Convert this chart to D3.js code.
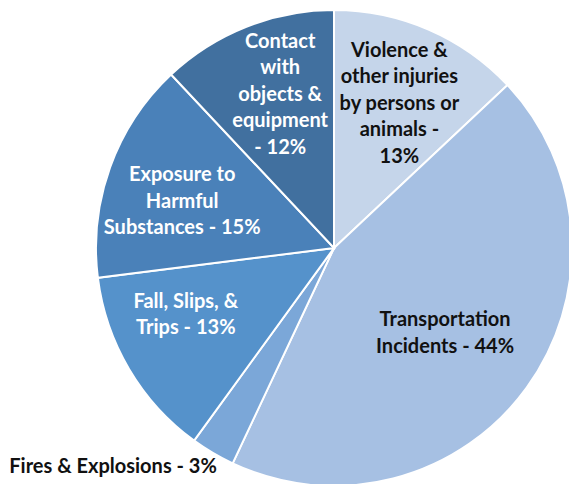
<!DOCTYPE html>
<html>
<head>
<meta charset="utf-8">
<script src="https://cdn.jsdelivr.net/npm/d3@7"></script>
<style>
  body { margin: 0; background: #fff; }
  text { font-family: Lato, 'Open Sans', sans-serif; font-weight: bold; font-size: 20px; }
</style>
</head>
<body>
<svg id="chart" width="569" height="484"></svg>
<script>
// slices, clockwise from 12 o'clock
const categories = [
  'Violence & other injuries by persons or animals',
  'Transportation Incidents',
  'Fires & Explosions',
  'Fall, Slips, & Trips',
  'Exposure to Harmful Substances',
  'Contact with objects & equipment',
]
const shares = [13, 44, 3, 13, 15, 12]
const labelLines = [
  ['Violence &', 'other injuries', 'by persons or', 'animals -', '13%'],
  ['Transportation', 'Incidents - 44%'],
  ['Fires & Explosions - 3%'],
  ['Fall, Slips, &', 'Trips - 13%'],
  ['Exposure to', 'Harmful', 'Substances - 15%'],
  ['Contact', 'with', 'objects &', 'equipment', '- 12%'],
]
const colors = ['#c5d5ea', '#a6c0e3', '#7ba7d8', '#5592cb', '#4a81b9', '#41709f']
const textColors = ['#111', '#111', '#111', '#fff', '#fff', '#fff']

const cx = 334
const cy = 248
const radius = 238
const lineH = 26.5

const svg = d3.select('#chart')
const g = svg.append('g').attr('transform', `translate(${cx}, ${cy})`)

const data = categories.map((c, i) => ({ name: c, value: shares[i], i: i }))
const pie = d3.pie().sort(null).value((d) => d.value)
const arcs = pie(data)

const arc = d3.arc().innerRadius(0).outerRadius(radius)
const labelArc = d3.arc().innerRadius(radius * 0.66).outerRadius(radius * 0.66)

g.selectAll('path')
  .data(arcs)
  .join('path')
  .attr('d', arc)
  .attr('fill', (d) => colors[d.data.i])
  .attr('stroke', '#fff')
  .attr('stroke-width', 2)

// small nudges so labels sit where the original put them
const nudge = [[3, -1], [-16, -8], [0, 0], [-13, -14], [-4, 6], [4, -8]]

arcs.forEach((d) => {
  const i = d.data.i
  const lines = labelLines[i]
  let x, y, anchor
  if (i === 2) {
    // small slice: label sits outside, to the lower left
    const mid = (d.startAngle + d.endAngle) / 2
    x = Math.sin(mid) * radius + 4
    y = -Math.cos(mid) * radius + 13
    anchor = 'end'
  } else {
    const c = labelArc.centroid(d)
    x = c[0] + nudge[i][0]
    y = c[1] + nudge[i][1] - ((lines.length - 1) * lineH) / 2
    anchor = 'middle'
  }
  const t = g.append('text')
    .attr('text-anchor', anchor)
    .attr('fill', textColors[i])
  lines.forEach((l, k) => {
    t.append('tspan')
      .attr('x', x)
      .attr('y', y + k * lineH)
      .attr('dy', '0.35em')
      .text(l)
  })
})
</script>
</body>
</html>
